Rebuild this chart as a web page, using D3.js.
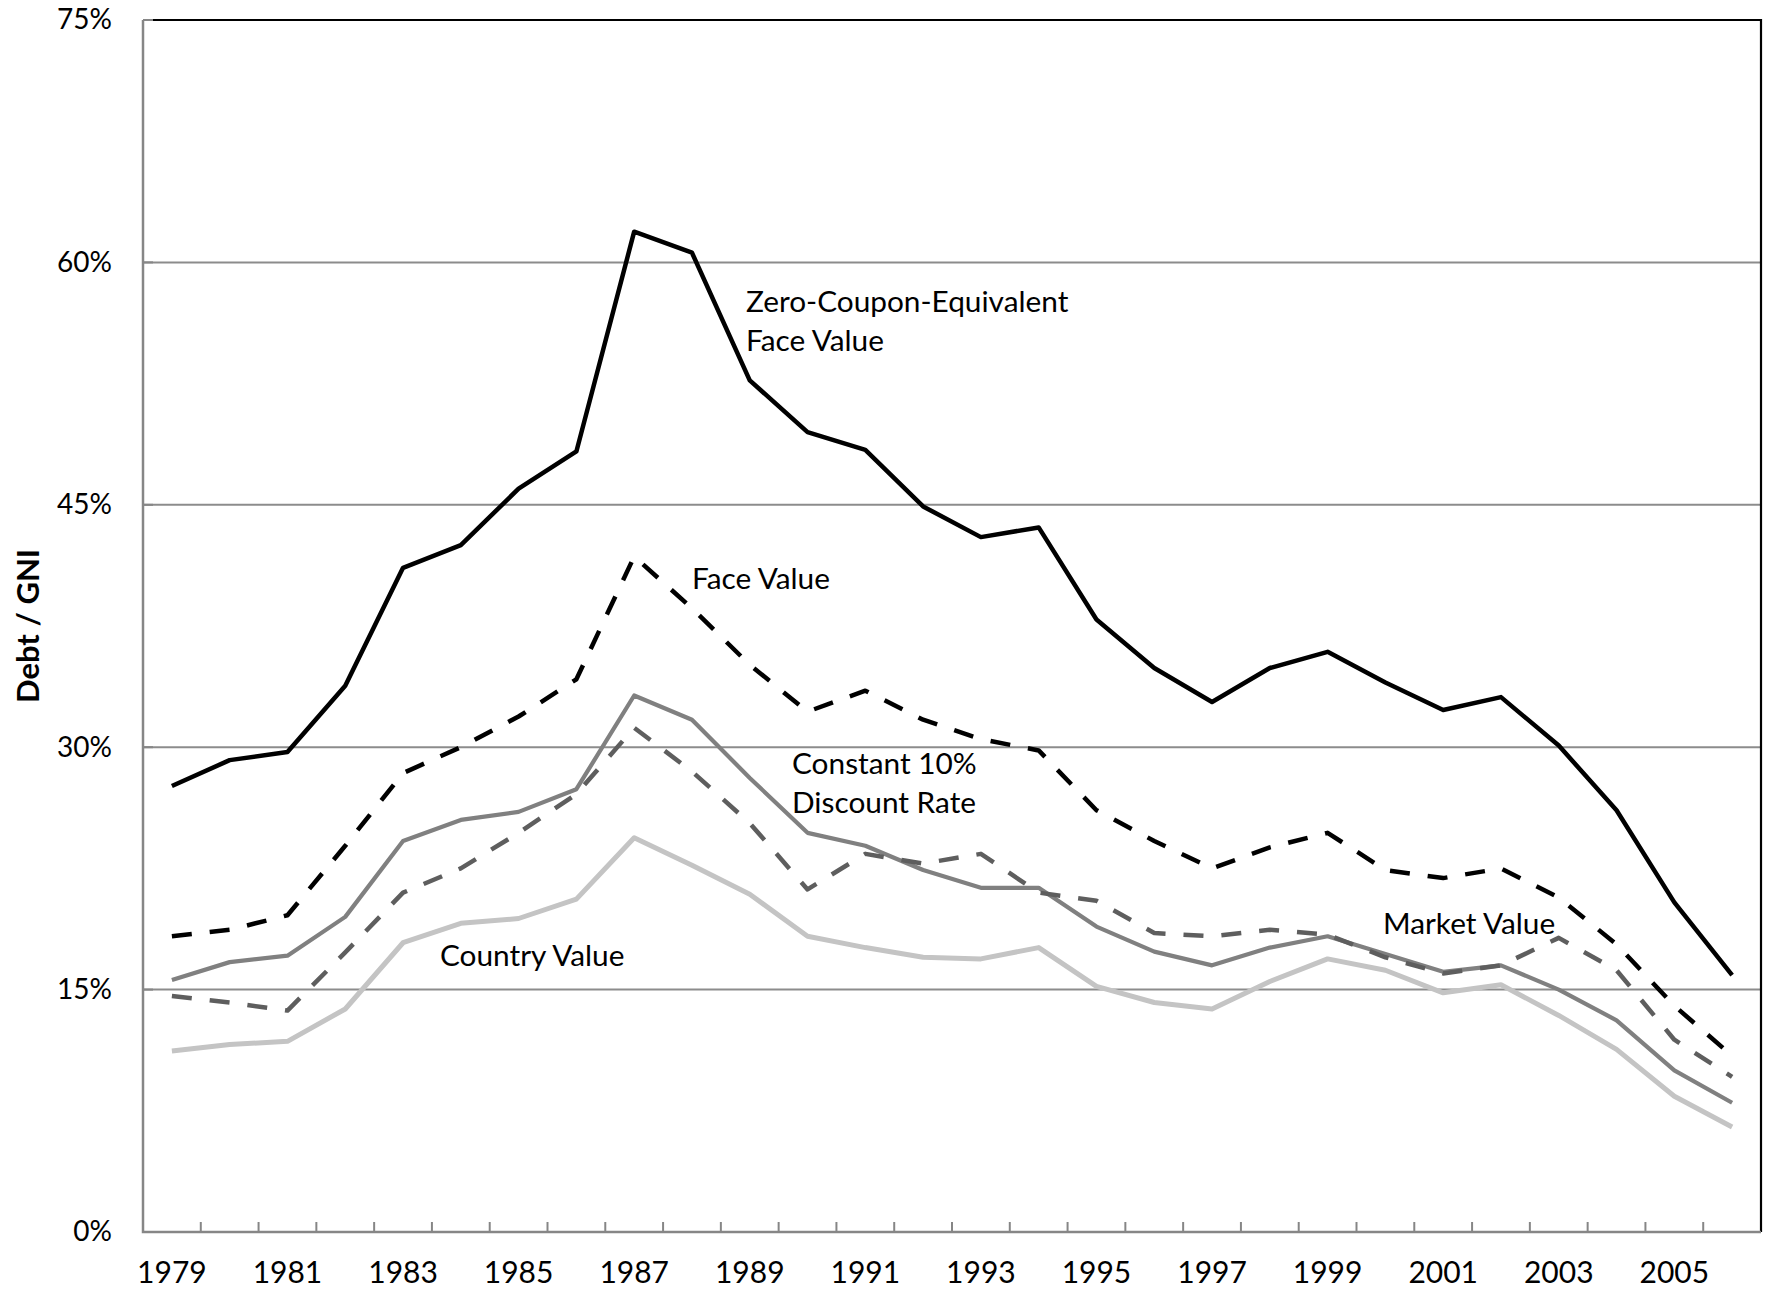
<!DOCTYPE html>
<html>
<head>
<meta charset="utf-8">
<script src="https://cdn.jsdelivr.net/npm/d3@7"></script>
<style>
  html, body { margin: 0; padding: 0; background: #fff; }
  svg { display: block; font-family: Lato, "Open Sans", sans-serif; }
</style>
</head>
<body>
<svg id="chart" width="1767" height="1292"></svg>
<script>
// ---- data (Debt / GNI, percent) ----
const years = d3.range(1979, 2007);
const yTicks = [0, 15, 30, 45, 60, 75];

const zeroCoupon = [27.6, 29.2, 29.7, 33.8, 41.1, 42.5, 46.0, 48.3, 61.9, 60.6, 52.7, 49.5, 48.4, 44.9,
                    43.0, 43.6, 37.9, 34.9, 32.8, 34.9, 35.9, 34.0, 32.3, 33.1, 30.1, 26.1, 20.4, 15.9];
const faceValue = [18.3, 18.7, 19.6, 23.9, 28.4, 30.0, 31.9, 34.2, 41.8, 38.6, 35.1, 32.2, 33.5, 31.7,
                   30.5, 29.8, 26.1, 24.2, 22.5, 23.8, 24.7, 22.4, 21.9, 22.5, 20.7, 17.8, 14.0, 10.9];
const marketValue = [14.6, 14.2, 13.7, 17.3, 21.0, 22.5, 24.7, 27.1, 31.2, 28.5, 25.3, 21.2, 23.4, 22.8,
                     23.4, 21.0, 20.5, 18.5, 18.3, 18.7, 18.4, 17.0, 16.0, 16.5, 18.2, 16.2, 11.9, 9.6];
const constant10 = [15.6, 16.7, 17.1, 19.5, 24.2, 25.5, 26.0, 27.4, 33.2, 31.7, 28.1, 24.7, 23.9, 22.4,
                    21.3, 21.3, 18.9, 17.35, 16.5, 17.6, 18.3, 17.2, 16.1, 16.5, 15.0, 13.1, 10.0, 8.0];
const countryValue = [11.2, 11.6, 11.8, 13.8, 17.9, 19.1, 19.4, 20.6, 24.4, 22.7, 20.9, 18.3, 17.6, 17.0,
                      16.9, 17.6, 15.2, 14.2, 13.8, 15.5, 16.9, 16.2, 14.8, 15.3, 13.4, 11.3, 8.4, 6.5];

const seriesLabels = {
  zero: ["Zero-Coupon-Equivalent", "Face Value"],
  face: ["Face Value"],
  constant: ["Constant 10%", "Discount Rate"],
  country: ["Country Value"],
  market: ["Market Value"]
};

// ---- layout ----
const M = { left: 143, right: 1761, top: 20, bottom: 1232 };
const svg = d3.select("#chart");

const x = d3.scaleBand().domain(years).range([M.left, M.right]).padding(0);
const y = d3.scaleLinear().domain([0, 75]).range([M.bottom, M.top]);
const cx = d => x(d) + x.bandwidth() / 2;

// gridlines
svg.append("g").selectAll("line")
  .data(yTicks.filter(t => t > 0 && t < 75))
  .join("line")
  .attr("x1", M.left).attr("x2", M.right)
  .attr("y1", d => y(d)).attr("y2", d => y(d))
  .attr("stroke", "#8c8c8c").attr("stroke-width", 2);

// plot border top & right (black)
svg.append("path")
  .attr("d", `M${M.left},${y(75)}H${M.right}V${M.bottom}`)
  .attr("fill", "none").attr("stroke", "#000").attr("stroke-width", 2.2);

// y axis
const yAxis = svg.append("g")
  .attr("transform", `translate(${M.left},0)`)
  .call(d3.axisLeft(y).tickValues(yTicks).tickSize(0).tickPadding(31).tickFormat(d => d + "%"));
yAxis.select(".domain").remove();
yAxis.selectAll("text").attr("font-size", 28).attr("fill", "#000")
  .attr("font-family", "Lato, sans-serif");
svg.append("g").selectAll("line").data(yTicks).join("line")
  .attr("x1", M.left).attr("x2", M.left + 10)
  .attr("y1", d => y(d)).attr("y2", d => y(d))
  .attr("stroke", "#868686").attr("stroke-width", 2);

// x axis
const xAxis = svg.append("g")
  .attr("transform", `translate(0,${M.bottom})`)
  .call(d3.axisBottom(x).tickSize(0).tickPadding(30)
    .tickFormat(d => (d % 2 === 1 ? String(d) : "")));
xAxis.select(".domain").remove();
xAxis.selectAll("text").attr("font-size", 30).attr("fill", "#000")
  .attr("font-family", "Lato, sans-serif");
// boundary tick marks (between categories)
svg.append("g").selectAll("line")
  .data(years.slice(1))
  .join("line")
  .attr("x1", d => x(d)).attr("x2", d => x(d))
  .attr("y1", M.bottom).attr("y2", M.bottom - 10)
  .attr("stroke", "#868686").attr("stroke-width", 2);

// axis lines
svg.append("path")
  .attr("d", `M${M.left},${M.top}V${M.bottom}H${M.right}`)
  .attr("fill", "none").attr("stroke", "#868686").attr("stroke-width", 2.5);

// y axis title
svg.append("text")
  .attr("transform", `translate(39,626) rotate(-90)`)
  .attr("text-anchor", "middle")
  .attr("font-size", 31).attr("font-weight", "bold")
  .attr("font-family", "Lato, sans-serif")
  .text("Debt / GNI");

// ---- lines ----
const line = d3.line().x((d, i) => cx(years[i])).y(d => y(d));
const series = [
  { key: "country", values: countryValue, color: "#c4c4c4", width: 5, dash: null },
  { key: "constant", values: constant10, color: "#808080", width: 4.2, dash: null },
  { key: "market", values: marketValue, color: "#5e5e5e", width: 4.5, dash: "20,18" },
  { key: "face", values: faceValue, color: "#000000", width: 4.5, dash: "20,18" },
  { key: "zero", values: zeroCoupon, color: "#000000", width: 4.5, dash: null }
];
svg.append("g").selectAll("path")
  .data(series)
  .join("path")
  .attr("d", s => line(s.values))
  .attr("fill", "none")
  .attr("stroke", s => s.color)
  .attr("stroke-width", s => s.width)
  .attr("stroke-dasharray", s => s.dash)
  .attr("stroke-linejoin", "round");

// ---- series labels ----
const labelPos = [
  { key: "zero", x: 746, y: 301 },
  { key: "face", x: 692, y: 578 },
  { key: "constant", x: 792, y: 763 },
  { key: "country", x: 440, y: 955 },
  { key: "market", x: 1383, y: 923 }
];
const fs = 29.8, lh = 39;
labelPos.forEach(p => {
  const t = svg.append("text")
    .attr("font-size", fs).attr("fill", "#000")
    .attr("font-family", "Lato, sans-serif");
  seriesLabels[p.key].forEach((s, i) => {
    t.append("tspan").attr("x", p.x).attr("y", p.y + i * lh + fs * 0.36).text(s);
  });
});
</script>
</body>
</html>
